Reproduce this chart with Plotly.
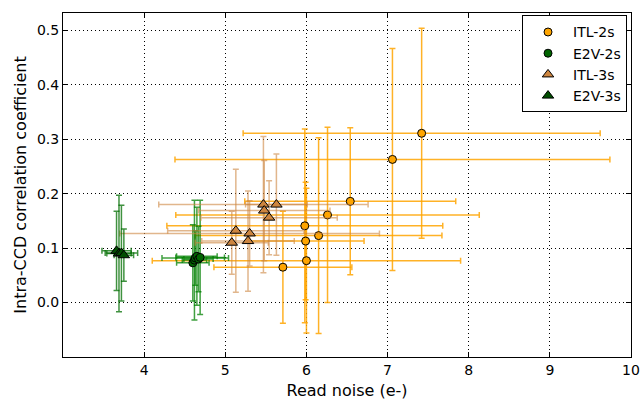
import plotly.graph_objects as go

# ITL-2s
itl2_x = [7.42, 7.06, 6.54, 6.26, 5.98, 6.15, 5.99, 6.00, 5.71]
itl2_y = [0.311, 0.263, 0.186, 0.161, 0.141, 0.123, 0.113, 0.077, 0.065]
itl2_xerr = [2.2, 2.68, 1.3, 1.87, 1.7, 1.52, 0.72, 1.9, 0.85]
itl2_yerr = [0.193, 0.204, 0.135, 0.161, 0.178, 0.18, 0.108, 0.133, 0.103]

# E2V-2s
e2v2_x = [4.60, 4.62, 4.63, 4.65, 4.67, 4.69]
e2v2_y = [0.073, 0.078, 0.082, 0.085, 0.080, 0.083]
e2v2_xerr = [0.2, 0.15, 0.41, 0.25, 0.18, 0.3]
e2v2_yerr = [0.07, 0.11, 0.05, 0.09, 0.06, 0.105]

# ITL-3s
itl3_x = [5.08, 5.13, 5.28, 5.30, 5.47, 5.48, 5.54, 5.63]
itl3_y = [0.110, 0.132, 0.113, 0.127, 0.180, 0.169, 0.156, 0.180]
itl3_xerr = [0.45, 0.84, 0.57, 1.6, 1.29, 0.81, 0.84, 0.38]
itl3_yerr = [0.058, 0.113, 0.092, 0.06, 0.125, 0.092, 0.068, 0.093]

# E2V-3s
e2v3_x = [3.66, 3.69, 3.72, 3.75]
e2v3_y = [0.095, 0.090, 0.091, 0.087]
e2v3_xerr = [0.18, 0.15, 0.2, 0.12]
e2v3_yerr = [0.073, 0.107, 0.088, 0.048]

x_ticks = [4, 5, 6, 7, 8, 9, 10]
y_ticks = [0.0, 0.1, 0.2, 0.3, 0.4, 0.5]

series = [
    ("ITL-2s", itl2_x, itl2_y, itl2_xerr, itl2_yerr, "circle", "#FFA500", "rgba(255,165,0,0.85)", 8),
    ("E2V-2s", e2v2_x, e2v2_y, e2v2_xerr, e2v2_yerr, "circle", "#006400", "rgba(0,128,0,0.75)", 8),
    ("ITL-3s", itl3_x, itl3_y, itl3_xerr, itl3_yerr, "triangle-up", "#CD853F", "rgba(205,133,63,0.6)", 10),
    ("E2V-3s", e2v3_x, e2v3_y, e2v3_xerr, e2v3_yerr, "triangle-up", "#004d00", "rgba(0,110,0,0.75)", 10),
]

fig = go.Figure()
for name, xs, ys, xe, ye, sym, mc, ec, sz in series:
    fig.add_trace(go.Scatter(
        x=xs, y=ys, mode="markers", name=name,
        marker=dict(symbol=sym, color=mc, size=sz, line=dict(color="black", width=1)),
        error_x=dict(type="data", array=xe, color=ec, thickness=1.5, width=3),
        error_y=dict(type="data", array=ye, color=ec, thickness=1.5, width=3),
    ))

axis_common = dict(
    showline=True, linecolor="black", linewidth=1, mirror="ticks",
    ticks="inside", ticklen=5, tickcolor="black",
    showgrid=True, gridcolor="black", gridwidth=1, griddash="1px,3px",
    zeroline=False, automargin=False,
    tickfont=dict(family="DejaVu Sans", size=14, color="black"),
)

fig.update_xaxes(range=[3, 10], tickvals=x_ticks, ticktext=[str(v) for v in x_ticks],
                 title=dict(text="Read noise (e-)", font=dict(family="DejaVu Sans", size=16, color="black"), standoff=8),
                 **axis_common)
fig.update_yaxes(range=[-0.1, 0.532], tickvals=y_ticks, ticktext=[f"{v:.1f}" for v in y_ticks],
                 title=dict(text="Intra-CCD correlation coefficient", font=dict(family="DejaVu Sans", size=16, color="black"), standoff=6),
                 **axis_common)

fig.update_layout(
    width=644, height=401,
    margin=dict(l=63, r=13, t=13, b=44),
    paper_bgcolor="white", plot_bgcolor="white",
    font=dict(family="DejaVu Sans", color="black"),
    legend=dict(x=0.993, y=0.993, xanchor="right", yanchor="top",
                bordercolor="black", borderwidth=1, bgcolor="white",
                font=dict(family="DejaVu Sans", size=14), itemwidth=40,
                tracegroupgap=0),
)

fig.write_html("out.html")
